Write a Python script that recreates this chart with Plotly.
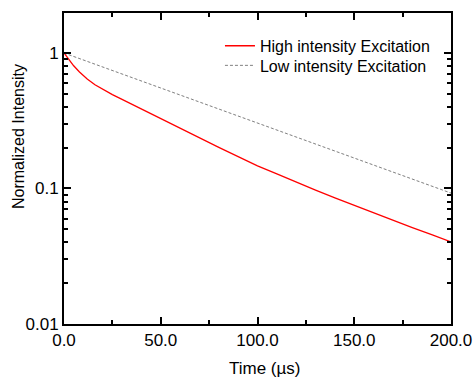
import plotly.graph_objects as go

# Data
time_high = [0, 2, 5, 8, 12, 16, 20, 25, 30, 40, 50, 60, 70, 80, 90, 100,
             110, 120, 130, 140, 150, 160, 170, 180, 190, 200]
high_intensity = [1.0, 0.912, 0.804, 0.724, 0.643, 0.583, 0.540, 0.493, 0.454,
                  0.385, 0.326, 0.277, 0.236, 0.201, 0.172, 0.147, 0.128,
                  0.111, 0.0973, 0.0853, 0.0750, 0.0661, 0.0583, 0.0515,
                  0.0456, 0.0404]

time_low = [0, 25, 50, 75, 100, 125, 150, 175, 200]
low_intensity = [1.0, 0.743, 0.552, 0.410, 0.305, 0.227, 0.168, 0.125, 0.0925]

x_ticks = [0, 50, 100, 150, 200]
x_minor = [25, 75, 125, 175]
y_ticks = [0.01, 0.1, 1]
y_tick_labels = ["0.01", "0.1", "1"]
y_minor = [m * d for d in (0.01, 0.1, 1) for m in range(2, 10) if m * d < 2.0]

FONT = "Arial, Liberation Sans, sans-serif"

fig = go.Figure()
fig.add_trace(go.Scatter(x=time_high, y=high_intensity, mode="lines",
                         name="High intensity Excitation", legend="legend",
                         line=dict(color="#ff0000", width=1.3)))
fig.add_trace(go.Scatter(x=time_low, y=low_intensity, mode="lines",
                         name="Low intensity Excitation", legend="legend2",
                         line=dict(color="#808080", width=1, dash="3px,2px")))

legend_common = dict(xanchor="left", yanchor="top", bgcolor="rgba(0,0,0,0)",
                     font=dict(size=16), borderwidth=0)

fig.update_layout(
    width=476, height=378,
    margin=dict(l=64, r=25, t=13, b=54, autoexpand=False),
    paper_bgcolor="white", plot_bgcolor="white",
    font=dict(family=FONT, size=17, color="black"),
    showlegend=True,
    legend=dict(x=0.403, y=0.949, **legend_common),
    legend2=dict(x=0.403, y=0.886, **legend_common),
    xaxis=dict(range=[0, 200], tickmode="array", tickvals=x_ticks,
               tickformat=".1f", ticks="inside", ticklen=7, tickwidth=1.5,
               tickcolor="black", showline=True, linecolor="black",
               linewidth=1.8, mirror="ticks", showgrid=False, zeroline=False,
               automargin=False,
               minor=dict(tickvals=x_minor, ticks="inside", ticklen=4,
                          tickwidth=1.5, tickcolor="black", showgrid=False),
               tickfont=dict(size=17)),
    yaxis=dict(type="log", range=[-2, 0.295], tickmode="array",
               tickvals=y_ticks, ticktext=y_tick_labels, ticks="inside",
               ticklen=7, tickwidth=1.5, tickcolor="black", showline=True,
               linecolor="black", linewidth=1.8, mirror="ticks",
               showgrid=False, zeroline=False, automargin=False,
               minor=dict(tickvals=y_minor, ticks="inside", ticklen=4,
                          tickwidth=1.5, tickcolor="black", showgrid=False),
               tickfont=dict(size=17)),
    annotations=[
        dict(text="Time (\u00b5s)", xref="paper", yref="paper",
             x=(265 - 64) / 387, y=-(368 - 324) / 311,
             xanchor="center", yanchor="middle", showarrow=False,
             font=dict(size=17)),
        dict(text="Normalized Intensity", xref="paper", yref="paper",
             x=-(64 - 18) / 387, y=(324 - 137) / 311, textangle=-90,
             xanchor="center", yanchor="middle", showarrow=False,
             font=dict(size=16)),
    ],
)

fig.write_html("out.html",
               config={"displayModeBar": False},
               post_script="document.body.style.margin='0';"
                           "document.body.style.padding='0';")
